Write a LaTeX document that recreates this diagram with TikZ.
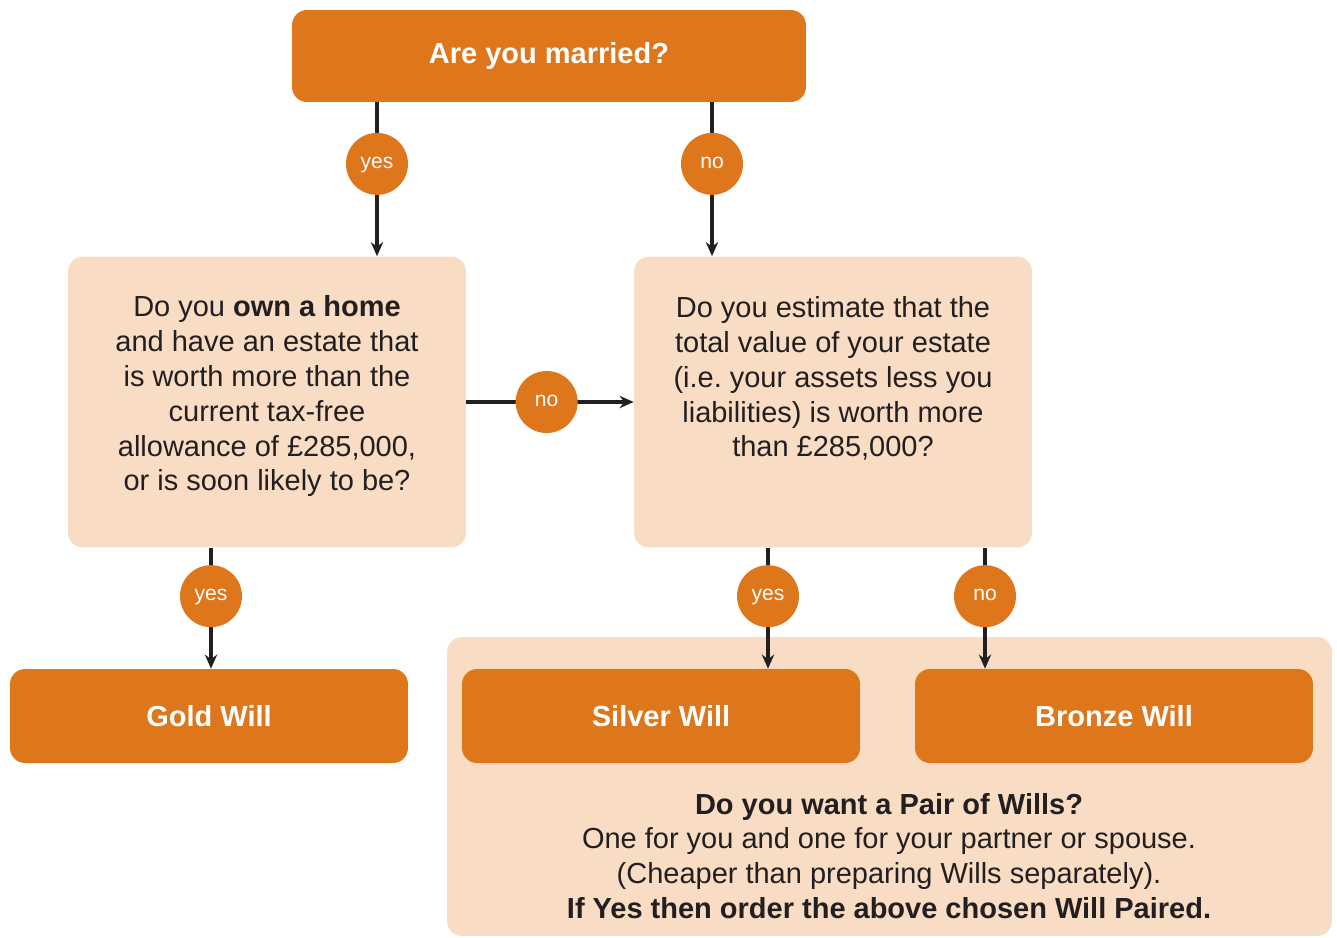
\documentclass[tikz,border=0pt]{standalone}
\usepackage{fontspec}
\setmainfont{Liberation Sans}
\usetikzlibrary{arrows.meta, positioning}

\definecolor{willorange}{HTML}{DE761C}
\definecolor{willpeach}{HTML}{F8DCC4}
\definecolor{inkgrey}{HTML}{231F20}

\begin{document}
\begin{tikzpicture}[x=0.02cm, y=-0.02cm,
    flow/.style={inkgrey, line width=2.2pt, -{Stealth[length=8pt,width=7pt]}},
    start/.style={fill=willorange, rounded corners=0.3cm, minimum width=10.28cm, minimum height=1.84cm,
      text=white, font=\fontsize{16.5}{19.8}\selectfont\bfseries},
    question/.style={fill=willpeach, rounded corners=0.3cm, minimum width=7.96cm, minimum height=5.82cm,
      align=center, text=inkgrey, font=\fontsize{16.5}{19.8}\selectfont},
    will/.style={fill=willorange, rounded corners=0.3cm, minimum width=7.96cm, minimum height=1.88cm,
      text=white, font=\fontsize{16.5}{19.8}\selectfont\bfseries},
    answer/.style={circle, fill=willorange, minimum size=1.24cm, inner sep=0pt,
      text height=1ex, text depth=0pt, text=white, font=\fontsize{12}{14}\selectfont},
    panel/.style={fill=willpeach, rounded corners=0.3cm, minimum width=17.7cm, minimum height=5.98cm},
    note/.style={align=center, text=inkgrey, font=\fontsize{16.5}{19.8}\selectfont}]
  \useasboundingbox (0,0) rectangle (1337,937);

  \node [start] (married) at (549,56) {Are you married?};
  \node [question] (home) at (267,402) {Do you \textbf{own a home}\\and have an estate that\\is worth more than the\\current tax-free\\allowance of £285,000,\\or is soon likely to be?\\[-10pt]~};
  \node [question] (estate) at (833,402) {Do you estimate that the\\total value of your estate\\(i.e.\ your assets less you\\liabilities) is worth more\\than £285,000?\\[9pt]~};

  \node [panel] (pairbg) at (889.5,786.5) {};
  \node [will] (gold) at (209,716) {Gold Will};
  \node [will] (silver) at (661,716) {Silver Will};
  \node [will] (bronze) at (1114,716) {Bronze Will};
  \node [note] (pair) at (889,856) {\textbf{Do you want a Pair of Wills?}\\One for you and one for your partner or spouse.\\(Cheaper than preparing Wills separately).\\\textbf{If Yes then order the above chosen Will Paired.}};

  % columns of the connectors
  \coordinate (c_married_yes) at (377,0);
  \coordinate (c_married_no) at (712,0);
  \coordinate (c_home_yes) at (211,0);
  \coordinate (c_estate_yes) at (768,0);
  \coordinate (c_estate_no) at (985,0);

  \path[flow]
    (married.south -| c_married_yes) edge node [answer, pos=0.4] {yes} (home.north -| c_married_yes)
    (married.south -| c_married_no) edge node [answer, pos=0.4] {no} (estate.north -| c_married_no)
    (home.east) edge node [answer, pos=0.48] {no} (estate.west)
    (home.south -| c_home_yes) edge node [answer, pos=0.4] {yes} (gold.north -| c_home_yes)
    (estate.south -| c_estate_yes) edge node [answer, pos=0.4] {yes} (silver.north -| c_estate_yes)
    (estate.south -| c_estate_no) edge node [answer, pos=0.4] {no} (bronze.north -| c_estate_no);
\end{tikzpicture}
\end{document}
